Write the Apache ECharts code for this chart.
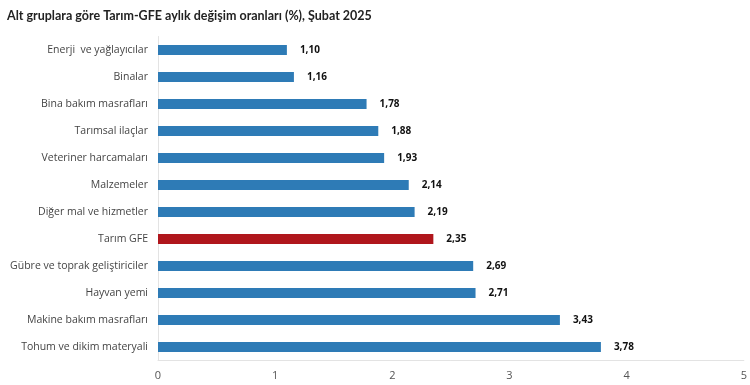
<!DOCTYPE html>
<html><head><meta charset="utf-8">
<script src="https://cdn.jsdelivr.net/npm/echarts@6/dist/echarts.min.js"></script>
<style>html,body{margin:0;padding:0;background:#fff}#c{width:750px;height:385px}</style>
</head><body><div id="c"></div>
<script>
const categories = ["Enerji  ve yağlayıcılar","Binalar","Bina bakım masrafları","Tarımsal ilaçlar","Veteriner harcamaları","Malzemeler","Diğer mal ve hizmetler","Tarım GFE","Gübre ve toprak geliştiriciler","Hayvan yemi","Makine bakım masrafları","Tohum ve dikim materyali"];
const values = [1.10,1.16,1.78,1.88,1.93,2.14,2.19,2.35,2.69,2.71,3.43,3.78];
const highlight = "Tarım GFE";
const xTicks = [0,1,2,3,4,5];

const chart = echarts.init(document.getElementById('c'));
chart.setOption({
  animation:false,
  title:{text:"Alt gruplara göre Tarım-GFE aylık değişim oranları (%), Şubat 2025",left:2,top:4,
    textStyle:{fontFamily:"Lato",fontSize:12.5,fontWeight:"bold",color:"#222"}},
  grid:{left:158,right:2,top:36.5,bottom:24.5},
  xAxis:{type:'value',min:0,max:5,interval:1,
    axisLine:{show:true,lineStyle:{color:"#e3e3e3"}},axisTick:{show:false},splitLine:{show:false},
    axisLabel:{color:"#555",fontFamily:"Open Sans",fontSize:11,margin:10,
      formatter:v=>xTicks.includes(v)?String(v):''}},
  yAxis:{type:'category',data:categories,inverse:true,
    axisLine:{show:true,lineStyle:{color:"#e3e3e3"}},axisTick:{show:false},
    axisLabel:{color:"#444",fontFamily:"Open Sans",fontSize:10.5,margin:10}},
  series:[{type:'bar',barCategoryGap:'63%',
    data:values.map((v,i)=>({value:v,itemStyle:{color:categories[i]===highlight?"#b0161c":"#2e7bb6"}})),
    label:{show:true,position:'right',distance:13,color:"#111",fontFamily:"Open Sans",fontSize:10,fontWeight:'bold',
      formatter:p=>p.value.toFixed(2).replace('.',',')}}]
});
</script></body></html>
